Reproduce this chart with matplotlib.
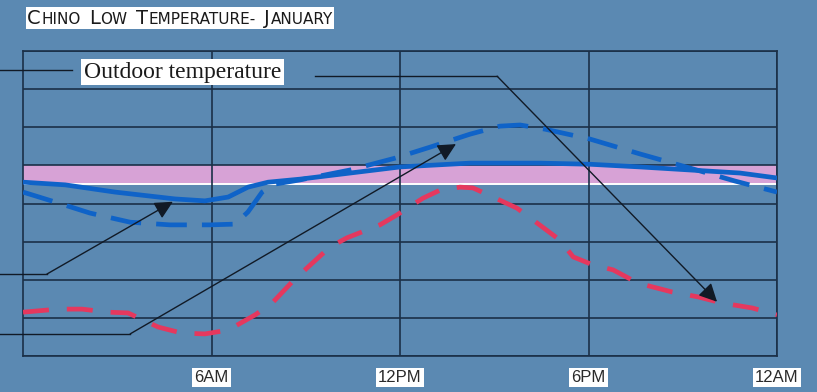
import numpy as np
import matplotlib
matplotlib.use("Agg")
import matplotlib.pyplot as plt
from matplotlib.offsetbox import TextArea, HPacker, AnnotationBbox

# ---------------------------------------------------------------------------
# Data (hours after midnight, arbitrary temperature grid units)
# ---------------------------------------------------------------------------
title_words = ["Chino", "Low", "Temperature-", "January"]
tick_hours = [6, 12, 18, 24]
tick_labels = ["6AM", "12PM", "6PM", "12AM"]
comfort_low, comfort_high = 4.5, 5.0

solid_hours = [0, 1.34, 2.93, 4.84, 5.79, 6.53, 7.16, 7.80, 8.82, 10.41,
               12.0, 14.23, 16.46, 18.05, 19.64, 21.23, 22.82, 24.0]
solid_temp = [4.56, 4.49, 4.30, 4.12, 4.07, 4.17, 4.43, 4.56, 4.64, 4.80,
              4.96, 5.06, 5.06, 5.03, 4.96, 4.88, 4.80, 4.67]

dashed_hours = [0, 1.02, 2.13, 3.41, 4.68, 5.95, 6.75, 7.16, 7.61, 8.02,
                8.82, 10.41, 11.84, 12.96, 14.23, 15.18, 15.82, 16.62,
                18.05, 19.64, 21.23, 22.66, 24.0]
dashed_temp = [4.30, 4.04, 3.75, 3.51, 3.44, 3.44, 3.46, 3.78, 4.30, 4.51,
               4.62, 4.88, 5.19, 5.48, 5.82, 6.03, 6.06, 5.95,
               5.69, 5.30, 4.93, 4.59, 4.30]

outdoor_hours = [0, 1.11, 1.88, 2.71, 3.34, 4.30, 5.06, 5.79, 6.53, 7.39,
                 7.93, 8.56, 9.04, 9.77, 10.31, 11.36, 11.90, 12.73, 13.27,
                 13.91, 14.32, 14.96, 15.72, 16.23, 17.09, 17.51, 18.14,
                 18.78, 19.58, 20.66, 21.49, 22.25, 23.21, 24.0]
outdoor_temp = [1.15, 1.23, 1.23, 1.15, 1.13, 0.76, 0.60, 0.58, 0.68, 1.08,
                1.39, 1.94, 2.31, 2.86, 3.10, 3.44, 3.70, 4.14, 4.35,
                4.43, 4.41, 4.17, 3.88, 3.57, 3.04, 2.60, 2.39,
                2.26, 1.91, 1.68, 1.55, 1.39, 1.26, 1.08]

# ---------------------------------------------------------------------------
# Style
# ---------------------------------------------------------------------------
BG = "#5b89b2"
GRID = "#1b3048"
BLUE = "#0f63c8"
RED = "#e5385e"
PINK = "#d7a2d6"
INK = "#111a26"

fig = plt.figure(figsize=(8.17, 3.92), dpi=100, facecolor=BG)
ax = fig.add_axes([0.0282, 0.0918, 0.9229, 0.778])
ax.set_facecolor(BG)
ax.set_xlim(0, 24)
ax.set_ylim(0, 8)

# comfort band
ax.axhspan(comfort_low, comfort_high, color=PINK, lw=0, zorder=1)
ax.axhline(comfort_low, color="white", lw=1.4, zorder=1.5)

# grid
ax.set_yticks(np.arange(0, 9))
ax.set_xticks(tick_hours)
ax.grid(True, color=GRID, lw=1.2, zorder=2)
ax.set_axisbelow(False)
ax.tick_params(axis="both", length=0, labelleft=False)
ax.set_xticklabels(tick_labels, fontsize=12, family="Liberation Sans", color="#2a2a2a")
ax.tick_params(axis="x", pad=10)
for lbl in ax.get_xticklabels():
    lbl.set_bbox(dict(fc="white", ec="none", pad=1.5))
for sp in ax.spines.values():
    sp.set_color(GRID)
    sp.set_linewidth(1.2)

# series
ax.plot(solid_hours, solid_temp, color=BLUE, lw=3.4, zorder=4,
        solid_capstyle="round", solid_joinstyle="round")
ax.plot(dashed_hours, dashed_temp, color=BLUE, lw=3.4, zorder=4,
        dashes=(6.5, 3.2))
ax.plot(outdoor_hours, outdoor_temp, color=RED, lw=3.4, zorder=4,
        dashes=(5.5, 3.8))

# ---------------------------------------------------------------------------
# Leader lines and arrows
# ---------------------------------------------------------------------------
arrow_kw = dict(arrowstyle="-|>,head_length=0.5,head_width=0.25", color=INK,
                lw=1.0, mutation_scale=22, shrinkA=0, shrinkB=0)
line_kw = dict(color=INK, lw=1.0, clip_on=False, zorder=6)

# indoor solid
tip1 = (4.77, np.interp(4.77, solid_hours, solid_temp) - 0.08)
ax.plot([-0.8, 0.76], [2.15, 2.15], **line_kw)
ax.annotate("", xy=tip1, xytext=(0.76, 2.15), arrowprops=arrow_kw,
            annotation_clip=False, zorder=6)

# indoor dashed
tip2 = (13.78, np.interp(13.78, dashed_hours, dashed_temp) - 0.14)
ax.plot([-0.8, 3.41], [0.58, 0.58], **line_kw)
ax.annotate("", xy=tip2, xytext=(3.41, 0.58), arrowprops=arrow_kw,
            annotation_clip=False, zorder=6)

# outdoor
tip3 = (22.09, np.interp(22.09, outdoor_hours, outdoor_temp))
ax.plot([9.29, 15.09], [7.34, 7.34], **line_kw)
ax.annotate("", xy=tip3, xytext=(15.09, 7.34), arrowprops=arrow_kw,
            annotation_clip=False, zorder=6)

ax.plot([-0.8, 1.56], [7.50, 7.50], **line_kw)
ax.text(5.09, 7.45, "Outdoor temperature", ha="center", va="center",
        fontsize=17, family="Liberation Serif", color="#1a1a1a", zorder=7,
        bbox=dict(fc="white", ec="none", pad=2))

# ---------------------------------------------------------------------------
# Small-caps title
# ---------------------------------------------------------------------------
parts = []
for w in title_words:
    parts.append(HPacker(children=[
        TextArea(w[0], textprops=dict(fontsize=14, family="DejaVu Sans", color="#1a1a1a")),
        TextArea(w[1:].upper(), textprops=dict(fontsize=11, family="DejaVu Sans", color="#1a1a1a")),
    ], align="baseline", pad=0, sep=0.5))
title_box = HPacker(children=parts, align="baseline", pad=0, sep=6)
ab = AnnotationBbox(title_box, (27, 374), xycoords="figure pixels",
                    box_alignment=(0, 0.5), frameon=True, pad=0.1,
                    bboxprops=dict(fc="white", ec="none"))
fig.add_artist(ab)

fig.savefig("out.png", dpi=100, facecolor=BG)
